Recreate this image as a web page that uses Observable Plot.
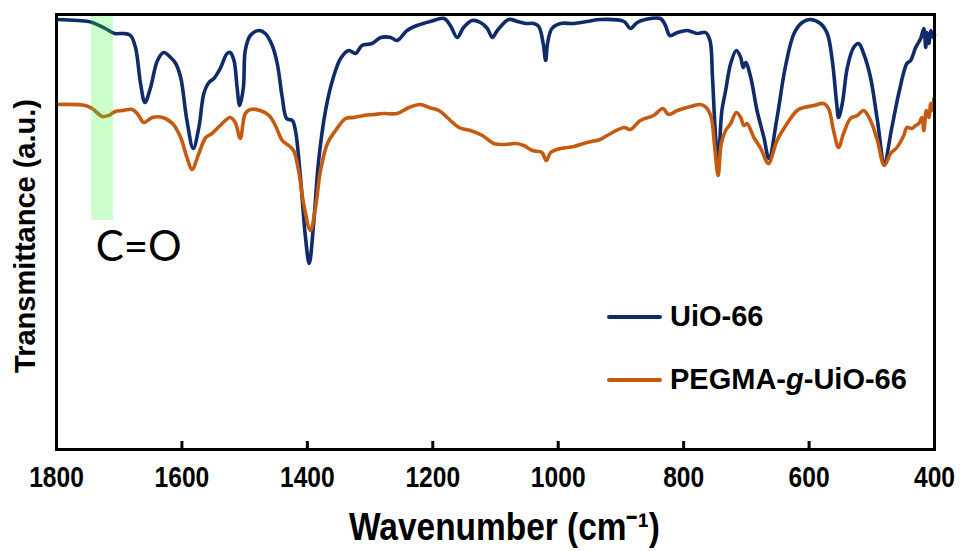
<!DOCTYPE html>
<html>
<head>
<meta charset="utf-8">
<script src="https://cdn.jsdelivr.net/npm/d3@7"></script>
<script src="https://cdn.jsdelivr.net/npm/@observablehq/plot@0.6"></script>
<style>
  html, body { margin: 0; padding: 0; background: #fff; }
  #wrap { position: relative; width: 960px; height: 551px; }
  #wrap svg { display: block; }
  g[aria-label="x-axis tick label"] text {
    font-family: "Liberation Sans", Arial, sans-serif;
    font-weight: bold; font-size: 30px; fill: #000;
  }
  .legend { position: absolute; left: 607px; font-family: "Liberation Sans", Arial, sans-serif;
    font-weight: bold; font-size: 29px; color: #000; display: flex; align-items: center; white-space: nowrap; }
  .legend .sw { width: 55px; height: 4px; border-radius: 2px; margin-right: 8px; }
</style>
</head>
<body>
<div id="wrap"></div>
<script>
// ---- data (wavenumber cm^-1, transmittance a.u.) ----
const seriesNames = ["UiO-66", "PEGMA-g-UiO-66"];
const seriesColors = ["#0f2b69", "#c55a11"];

const uioWn = [1800,1749,1743,1722,1707,1693,1682,1674,1666,1659,1650,1639,1629,1618,1610,1602,1592,1582,1573,1565,1557,1549,1539,1528,1523,1517,1512,1508,1502,1499,1491,1477,1467,1456,1448,1440,1433,1424,1419,1411,1403,1397,1390,1382,1371,1360,1347,1334,1323,1313,1297,1283,1267,1257,1241,1225,1204,1182,1172,1161,1151,1137,1124,1113,1105,1097,1079,1065,1052,1039,1031,1024,1020,1017,1010,996,975,954,933,895,885,874,861,837,829,822,810,794,778,765,758,754,749,745,739,733,725,716,709,705,701,693,683,672,664,651,638,624,611,598,582,571,563,556,553,547,539,529,521,513,502,491,480,468,457,444,438,430,422,417,414,412,409,406,402,400];
const uioT  = [430,428,427,421,416,416,414,402,366,347,362,389,397,392,386,372,329,301,322,356,367,371,381,396,397,389,362,344,362,399,414,419,416,404,386,352,331,329,319,272,212,186,226,289,339,369,391,399,396,404,406,412,412,409,419,424,428,431,424,412,422,429,427,421,412,419,430,428,426,426,423,406,389,406,421,426,426,428,430,428,421,427,430,431,424,414,417,419,416,417,409,372,312,289,339,359,386,399,392,382,387,372,339,312,291,332,382,416,427,430,426,416,389,346,332,346,382,402,406,396,372,329,287,322,356,386,389,402,411,421,402,417,406,419,412,414];

const pegWn = [1800,1754,1743,1727,1717,1706,1695,1679,1669,1661,1647,1631,1615,1602,1592,1584,1573,1562,1552,1539,1523,1515,1507,1499,1491,1475,1461,1451,1440,1430,1422,1414,1406,1395,1387,1379,1368,1355,1339,1326,1310,1294,1278,1257,1238,1220,1206,1190,1177,1158,1140,1121,1103,1087,1068,1055,1041,1026,1019,1012,996,975,954,933,922,895,885,869,848,833,824,810,789,773,764,756,751,745,740,733,725,716,709,704,699,688,677,667,664,651,635,619,608,592,577,569,561,553,545,534,523,513,502,491,480,470,460,449,444,436,430,425,420,417,413,409,406,404,401];
const pegT  = [345,344,341,333,334,338,339,340,334,327,332,332,326,312,292,280,296,312,316,324,332,327,311,336,340,339,334,324,309,304,299,279,246,219,242,279,306,319,331,332,334,335,336,336,342,345,342,339,332,322,319,314,306,305,306,304,299,297,289,297,301,303,307,310,314,322,320,329,334,341,335,339,343,345,342,332,306,274,306,319,326,337,332,324,326,312,301,287,286,309,326,339,342,344,346,341,319,302,316,331,334,339,329,309,284,296,302,314,322,321,324,326,332,319,339,332,346,339,351];

const xTicks = [1800, 1600, 1400, 1200, 1000, 800, 600, 400];
const xLabel = "Wavenumber (cm\u207B\u00B9)";
const yLabel = "Transmittance (a.u.)";
const bandRange = [{x1: 1744, x2: 1709, y1: 229, y2: 435}];
const annotation = [{wn: 1669, t: 202, text: "C=O"}];

const rows = [];
uioWn.forEach((w, i) => rows.push({series: seriesNames[0], wn: w, t: uioT[i]}));
pegWn.forEach((w, i) => rows.push({series: seriesNames[1], wn: w, t: pegT[i]}));

const chart = Plot.plot({
  width: 960, height: 551,
  marginTop: 14, marginBottom: 102, marginLeft: 56, marginRight: 26,
  x: {domain: [1800, 400], label: null},
  y: {domain: [0, 435], axis: null},
  color: {domain: seriesNames, range: seriesColors},
  marks: [
    Plot.line(rows, {x: "wn", y: "t", z: "series", stroke: "series", strokeWidth: 3.6, curve: "catmull-rom"}),
    Plot.rect(bandRange, {x1: "x1", x2: "x2", y1: "y1", y2: "y2", fill: "#33ff33", fillOpacity: 0.25}),
    Plot.frame({stroke: "#000", strokeWidth: 3}),
    Plot.axisX(xTicks, {tickSize: 0, tickPadding: 16, label: null, tickFormat: d => String(d)}),
    Plot.ruleX(xTicks, {x: d => d, y1: 0, y2: 0, insetTop: -8, stroke: "#000", strokeWidth: 3}),
    Plot.text([xLabel], {frameAnchor: "bottom", textAnchor: "middle", lineAnchor: "middle", dx: 9, dy: 78,
      fontSize: 38, fontWeight: "bold", fontFamily: "'Liberation Sans', Arial, sans-serif", fill: "#000",
      className: "narrow-title"}),
    Plot.text([yLabel], {frameAnchor: "left", textAnchor: "middle", lineAnchor: "middle", dx: -31, dy: 4, rotate: -90,
      fontSize: 29, fontWeight: "bold", fontFamily: "'Liberation Sans', Arial, sans-serif", fill: "#000"}),
    Plot.text(annotation, {x: "wn", y: "t", text: "text", fontSize: 42,
      fontFamily: "Lato, 'Open Sans', sans-serif", fill: "#000"})
  ]
});

const wrap = document.getElementById("wrap");
wrap.appendChild(chart);

// condense the bold tick labels and axis title (Arial Narrow look), scaling about each text's own anchor
function condense(textEl, s) {
  const t = textEl.getAttribute("transform") || "";
  const xa = textEl.getAttribute("x");
  if (xa !== null && /^-?[\d.]+$/.test(xa)) textEl.setAttribute("x", (+xa) / s);
  textEl.setAttribute("transform", `${t} scale(${s},1)`);
}
chart.querySelectorAll('g[aria-label="x-axis tick label"] text').forEach(el => condense(el, 0.82));
chart.querySelectorAll('.narrow-title text').forEach(el => condense(el, 0.88));

const legendTops = [300, 363];
seriesNames.forEach((name, i) => {
  const div = document.createElement("div");
  div.className = "legend";
  div.style.top = legendTops[i] + "px";
  const sw = document.createElement("span");
  sw.className = "sw";
  sw.style.background = seriesColors[i];
  div.appendChild(sw);
  const label = document.createElement("span");
  if (name === "PEGMA-g-UiO-66") {
    label.innerHTML = "PEGMA-<i>g</i>-UiO-66";
  } else {
    label.textContent = name;
  }
  div.appendChild(label);
  wrap.appendChild(div);
});
</script>
</body>
</html>
